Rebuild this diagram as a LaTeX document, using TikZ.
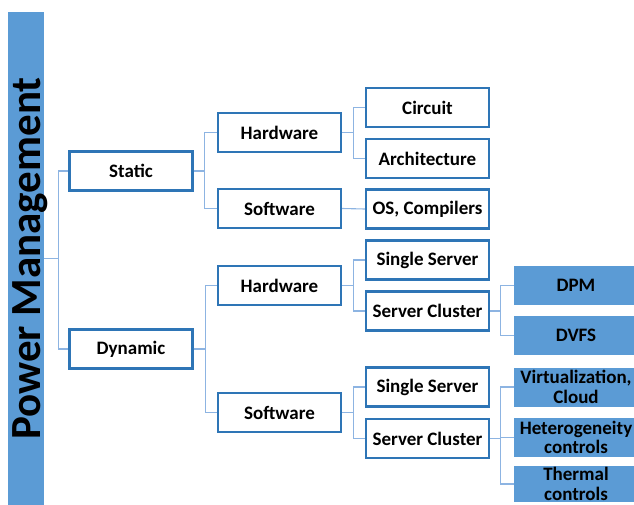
\documentclass[tikz,border=0pt]{standalone}
\usepackage{fontspec}
\setmainfont{Carlito}
\usepackage{xcolor}
\usepackage{tikz}
\usetikzlibrary{positioning, calc}

\definecolor{boxblue}{RGB}{46,117,182}
\definecolor{fillblue}{RGB}{91,155,213}
\definecolor{linkblue}{RGB}{141,180,226}

\begin{document}
\begin{tikzpicture}[x=1pt, y=-1pt,
    box/.style={draw=boxblue, line width=2.3pt, fill=white, minimum width=123pt,
        minimum height=39pt, inner sep=0pt, font=\fontsize{19}{22}\selectfont\bfseries},
    fbox/.style={fill=fillblue, minimum width=124pt, minimum height=39pt, inner sep=0pt,
        align=center, font=\fontsize{19}{19.5}\selectfont\bfseries},
    link/.style={draw=linkblue, line width=1.1pt},
    bar/.style={fill=fillblue, rotate=90, minimum width=493pt, minimum height=36pt,
        inner sep=0pt, text height=31pt, text depth=3pt,
        font=\fontsize{43}{47}\selectfont\bfseries}]
    \useasboundingbox (0,0) rectangle (634,505);

    % Root bar
    \node[bar] (pm) at (26,258.5) {Power Management};

    % First level
    \node[box] (static) at (131,171) {Static};
    \node[box] (dynamic) at (131,349) {Dynamic};

    % Second level
    \node[box] (hwS) at (279.5,132.5) {Hardware};
    \node[box] (swS) at (279.5,208.5) {Software};
    \node[box] (hwD) at (279.5,285.5) {Hardware};
    \node[box] (swD) at (279.5,412.5) {Software};

    % Third level
    \node[box] (circuit) at (427.5,107.5) {Circuit};
    \node[box] (arch) at (427.5,158.5) {Architecture};
    \node[box] (os) at (427.5,209) {OS, Compilers};
    \node[box] (ssH) at (427.5,260) {Single Server};
    \node[box] (scH) at (427.5,311) {Server Cluster};
    \node[box] (ssS) at (427.5,387) {Single Server};
    \node[box] (scS) at (427.5,438.5) {Server Cluster};

    % Leaves
    \node[fbox] (dpm) at (576,285.5) {DPM};
    \node[fbox] (dvfs) at (576,335.5) {DVFS};
    \node[fbox] (virt) at (576,387) {Virtualization,\\Cloud};
    \node[fbox] (het) at (576,437.5) {Heterogeneity\\controls};
    \node[fbox, minimum height=36pt] (therm) at (576,484) {Thermal\\controls};

    % Connectors
    \draw[link] (pm.south) -- ++(14,0) |- (static.west);
    \draw[link] (pm.south) -- ++(14,0) |- (dynamic.west);
    \draw[link] (static.east) -- ++(11,0) |- (hwS.west);
    \draw[link] (static.east) -- ++(11,0) |- (swS.west);
    \draw[link] (hwS.east) -- ++(11,0) |- (circuit.west);
    \draw[link] (hwS.east) -- ++(11,0) |- (arch.west);
    \draw[link] (swS.east) -- (os.west);
    \draw[link] (dynamic.east) -- ++(12,0) |- (hwD.west);
    \draw[link] (dynamic.east) -- ++(12,0) |- (swD.west);
    \draw[link] (hwD.east) -- ++(11,0) |- (ssH.west);
    \draw[link] (hwD.east) -- ++(11,0) |- (scH.west);
    \draw[link] (swD.east) -- ++(11,0) |- (ssS.west);
    \draw[link] (swD.east) -- ++(11,0) |- (scS.west);
    \draw[link] (scH.east) -- ++(10,0) |- (dpm.west);
    \draw[link] (scH.east) -- ++(10,0) |- (dvfs.west);
    \draw[link] (scS.east) -- ++(10,0) |- (virt.west);
    \draw[link] (scS.east) -- ++(10,0) |- (het.west);
    \draw[link] (scS.east) -- ++(10,0) |- (therm.west);
\end{tikzpicture}
\end{document}
